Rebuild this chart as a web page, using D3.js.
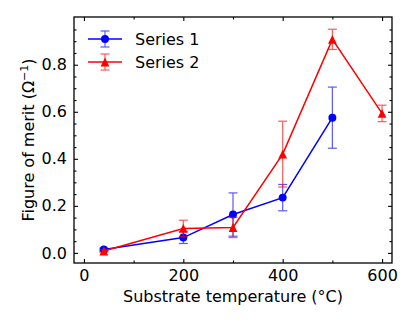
<!DOCTYPE html>
<html>
<head>
<meta charset="utf-8">
<script src="https://cdn.jsdelivr.net/npm/d3@7"></script>
<style>
   body { margin: 0; background: #fff; }
   text { font-family: "DejaVu Sans", sans-serif; fill: #000; }
</style>
</head>
<body>
<svg id="chart" width="416" height="323"></svg>
<script>
// DATA
var temps1 = [40, 200, 300, 400, 500];
var merit1 = [0.014, 0.065, 0.163, 0.235, 0.575];
var err1 = [0.006, 0.025, 0.092, 0.056, 0.13];

var temps2 = [40, 200, 300, 400, 500, 600];
var merit2 = [0.008, 0.104, 0.108, 0.42, 0.908, 0.593];
var err2 = [0.005, 0.035, 0.043, 0.14, 0.043, 0.035];

var xTicks = [0, 200, 400, 600];
var yTicks = [0.0, 0.2, 0.4, 0.6, 0.8];

// CHART FRAME
var margin = { left: 74, top: 17, right: 392, bottom: 263 };
var fontSize = '16px';
var svg = d3.select('#chart');

// SCALES
var xScale = d3.scaleLinear().domain([-20, 620]).range([margin.left, margin.right]);
var yScale = d3.scaleLinear().domain([-0.043, 1.003]).range([margin.bottom, margin.top]);

// AXES WITH INWARD TICKS ON ALL SIDES
function tickAxis(axis, scale, major, minor, labels) {
   var g = svg.append('g');
   g.call(axis(scale).tickValues(minor).tickSize(-2.5).tickFormat(''));
   g.select('.domain').remove();
   var g3 = svg.append('g');
   g3.call(axis(scale).tickValues(major).tickSize(-4).tickPadding(labels ? 7 : 0)
      .tickFormat(labels ? labels : ''));
   g3.select('.domain').remove();
   return [g, g3];
}

var xMinor = [100, 300, 500];
var yMinor = [0.05, 0.1, 0.15, 0.25, 0.3, 0.35, 0.45, 0.5, 0.55, 0.65, 0.7, 0.75, 0.85, 0.9, 0.95];

var bottomAx = tickAxis(d3.axisBottom, xScale, xTicks, xMinor, d3.format('d'));
bottomAx.forEach(g => g.attr('transform', 'translate(0,' + margin.bottom + ')'));
var topAx = tickAxis(d3.axisTop, xScale, xTicks, xMinor, null);
topAx.forEach(g => g.attr('transform', 'translate(0,' + margin.top + ')'));
var leftAx = tickAxis(d3.axisLeft, yScale, yTicks, yMinor, d3.format('.1f'));
leftAx.forEach(g => g.attr('transform', 'translate(' + margin.left + ',0)'));
var rightAx = tickAxis(d3.axisRight, yScale, yTicks, yMinor, null);
rightAx.forEach(g => g.attr('transform', 'translate(' + margin.right + ',0)'));

svg.selectAll('.tick line').attr('stroke', '#000').attr('stroke-width', 1.1);
svg.selectAll('.tick text').style('font-size', fontSize).attr('fill', '#000');

// FRAME
svg.append('rect')
   .attr('x', margin.left).attr('y', margin.top)
   .attr('width', margin.right - margin.left).attr('height', margin.bottom - margin.top)
   .attr('fill', 'none').attr('stroke', '#000').attr('stroke-width', 1.3);

// SERIES
var series = [
   { name: 'Series 1', x: temps1, y: merit1, e: err1, color: '#0000ff', marker: 'circle' },
   { name: 'Series 2', x: temps2, y: merit2, e: err2, color: '#ff0000', marker: 'triangle' }
];

var circleSym = d3.symbol().type(d3.symbolCircle).size(50);
var triPath = 'M0,-4.4L4.4,4.4L-4.4,4.4Z';

function drawMarker(g, type, color, cx, cy) {
   g.append('path')
      .attr('d', type === 'circle' ? circleSym() : triPath)
      .attr('transform', 'translate(' + cx + ',' + cy + ')')
      .attr('fill', color);
}

series.forEach(s => {
   var pts = s.x.map((x, i) => ({ x: x, y: s.y[i], e: s.e[i] }));
   var g = svg.append('g');

   // ERROR BARS
   var eb = g.append('g').attr('stroke', s.color).attr('stroke-width', 1.2).attr('opacity', 0.65);
   pts.forEach(p => {
      var px = xScale(p.x);
      eb.append('line').attr('x1', px).attr('x2', px)
         .attr('y1', yScale(p.y - p.e)).attr('y2', yScale(p.y + p.e));
      [p.y - p.e, p.y + p.e].forEach(v => {
         eb.append('line').attr('x1', px - 4.5).attr('x2', px + 4.5)
            .attr('y1', yScale(v)).attr('y2', yScale(v));
      });
   });

   // LINE
   g.append('path')
      .attr('d', d3.line().x(p => xScale(p.x)).y(p => yScale(p.y))(pts))
      .attr('fill', 'none').attr('stroke', s.color).attr('stroke-width', 1.5);

   // MARKERS
   pts.forEach(p => drawMarker(g, s.marker, s.color, xScale(p.x), yScale(p.y)));
});

// LEGEND
series.forEach((s, i) => {
   var ly = 39 + i * 23;
   var g = svg.append('g');
   var eb = g.append('g').attr('stroke', s.color).attr('stroke-width', 1.2).attr('opacity', 0.65);
   eb.append('line').attr('x1', 105).attr('x2', 105).attr('y1', ly - 8).attr('y2', ly + 8);
   eb.append('line').attr('x1', 100.5).attr('x2', 109.5).attr('y1', ly - 8).attr('y2', ly - 8);
   eb.append('line').attr('x1', 100.5).attr('x2', 109.5).attr('y1', ly + 8).attr('y2', ly + 8);
   g.append('line').attr('x1', 88).attr('x2', 122).attr('y1', ly).attr('y2', ly)
      .attr('stroke', s.color).attr('stroke-width', 1.5);
   drawMarker(g, s.marker, s.color, 105, ly);
   g.append('text').attr('x', 135).attr('y', ly + 5.8)
      .style('font-size', fontSize).text(s.name);
});

// AXIS LABELS
svg.append('text')
   .attr('x', (margin.left + margin.right) / 2).attr('y', 302)
   .attr('text-anchor', 'middle').style('font-size', fontSize)
   .text('Substrate temperature (°C)');

var yl = svg.append('text')
   .attr('transform', 'translate(34,' + ((margin.top + margin.bottom) / 2) + ') rotate(-90)')
   .attr('text-anchor', 'middle').style('font-size', fontSize);
yl.append('tspan').text('Figure of merit (Ω');
yl.append('tspan').attr('dy', -6).style('font-size', '11px').text('−1');
yl.append('tspan').attr('dy', 6).text(')');
</script>
</body>
</html>
